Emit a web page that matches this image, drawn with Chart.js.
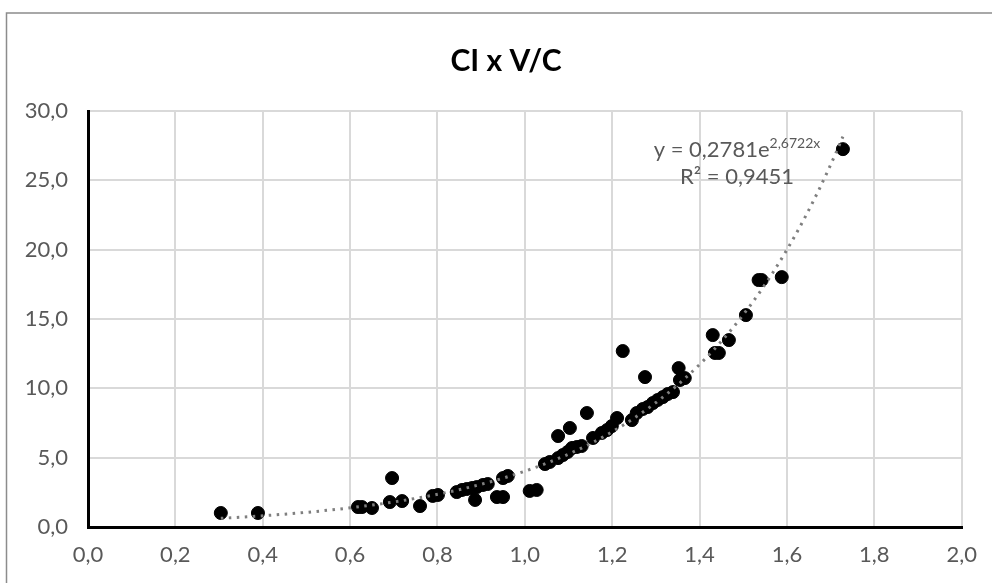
<!DOCTYPE html>
<html>
<head>
<meta charset="utf-8">
<script src="https://cdn.jsdelivr.net/npm/chart.js@4"></script>
<style>
  body { margin: 0; background: #fff; }
  #wrap { width: 992px; height: 583px; }
</style>
</head>
<body>
<div id="wrap"><canvas id="myChart" width="992" height="583"></canvas></div>
<script>
// data
const vc = [0.304, 0.389, 0.618, 0.627, 0.650, 0.696, 0.691, 0.719, 0.760, 0.789,
  0.801, 0.844, 0.856, 0.867, 0.879, 0.890, 0.904, 0.915, 0.886, 0.936,
  0.950, 0.950, 0.961, 1.011, 1.027, 1.046, 1.057, 1.076, 1.076, 1.087,
  1.098, 1.108, 1.103, 1.119, 1.130, 1.142, 1.156, 1.176, 1.188, 1.199,
  1.211, 1.224, 1.245, 1.256, 1.270, 1.275, 1.281, 1.293, 1.304, 1.316,
  1.327, 1.339, 1.352, 1.355, 1.366, 1.430, 1.435, 1.444, 1.467, 1.506,
  1.535, 1.542, 1.588, 1.728];
const ci = [1.01, 1.01, 1.44, 1.44, 1.37, 3.53, 1.80, 1.87, 1.51, 2.24,
  2.31, 2.52, 2.67, 2.74, 2.81, 2.88, 3.03, 3.10, 1.95, 2.16,
  2.16, 3.53, 3.68, 2.60, 2.67, 4.54, 4.69, 6.56, 4.97, 5.19,
  5.41, 5.70, 7.14, 5.77, 5.84, 8.22, 6.42, 6.78, 6.99, 7.28,
  7.86, 12.69, 7.71, 8.22, 8.51, 10.81, 8.65, 8.94, 9.16, 9.37,
  9.59, 9.73, 11.46, 10.60, 10.74, 13.84, 12.55, 12.55, 13.48, 15.28,
  17.81, 17.81, 18.02, 27.25];

// exponential trendline as printed on the chart
const trendA = 0.2781;
const trendB = 2.6722;
const trendR2 = "0,9451";

const points = vc.map((x, i) => ({ x: x, y: ci[i] }));
const trend = [];
const xMin = Math.min(...vc), xMax = Math.max(...vc);
for (let i = 0; i <= 80; i++) {
  const x = xMin + (xMax - xMin) * i / 80;
  trend.push({ x: x, y: trendA * Math.exp(trendB * x) });
}

const fmt = (v) => v.toFixed(1).replace(".", ",");

const excelDecor = {
  id: "excelDecor",
  beforeDraw(chart) {
    const c = chart.ctx;
    c.save();
    c.fillStyle = "#fff";
    c.fillRect(0, 0, chart.width, chart.height);
    c.strokeStyle = "#8c8c8c";
    c.lineWidth = 1.5;
    c.strokeRect(6.5, 13, 1200, 1000);
    c.restore();
  },
  afterDraw(chart) {
    const c = chart.ctx;
    c.save();
    // title
    c.fillStyle = "#000";
    c.font = "bold 30px Lato";
    c.textAlign = "center";
    c.textBaseline = "alphabetic";
    c.fillText("CI x V/C", 506, 71);

    // trendline equation
    c.fillStyle = "#595959";
    c.textAlign = "left";
    const big = "22px Lato", small = "14px Lato";
    const t1 = "y = " + String(trendA).replace(".", ",") + "e";
    const t2 = String(trendB).replace(".", ",") + "x";
    c.font = big;
    const w1 = c.measureText(t1).width;
    c.font = small;
    const w2 = c.measureText(t2).width;
    const cx = 737;
    let x0 = cx - (w1 + w2) / 2;
    c.font = big;
    c.fillText(t1, x0, 157);
    c.font = small;
    c.fillText(t2, x0 + w1, 148);
    c.font = big;
    c.textAlign = "center";
    c.fillText("R\u00B2 = " + trendR2, cx, 184);
    c.restore();
  }
};

const ctx = document.getElementById("myChart").getContext("2d");
const chart = new Chart(ctx, {
  type: "scatter",
  data: {
    datasets: [
      {
        label: "trend",
        data: trend,
        showLine: true,
        pointRadius: 0,
        borderColor: "#7f7f7f",
        borderWidth: 3,
        borderDash: [2.5, 5.5],
        fill: false,
        order: 0,
      },
      {
        label: "CI",
        data: points,
        pointRadius: 6.5,
        pointBackgroundColor: "#000",
        pointBorderColor: "#000",
        pointBorderWidth: 1,
        order: 1,
      },
    ],
  },
  options: {
    responsive: false,
    animation: false,
    layout: { padding: { top: 111, right: 29, left: 0, bottom: 0 } },
    plugins: {
      legend: { display: false },
      tooltip: { enabled: false },
    },
    scales: {
      x: {
        type: "linear",
        min: 0,
        max: 2,
        ticks: {
          stepSize: 0.2,
          padding: 15,
          color: "#595959",
          font: { family: "Lato", size: 22 },
          callback: (v) => fmt(v),
        },
        grid: { color: "#d9d9d9", lineWidth: 2, drawTicks: false },
        border: { display: true, color: "#000", width: 3 },
        afterFit: (s) => { s.height = 56; },
      },
      y: {
        min: 0,
        max: 30,
        ticks: {
          stepSize: 5,
          padding: 20,
          color: "#595959",
          font: { family: "Lato", size: 22 },
          callback: (v) => fmt(v),
        },
        grid: { color: "#d9d9d9", lineWidth: 2, drawTicks: false },
        border: { display: true, color: "#000", width: 3 },
        afterFit: (s) => { s.width = 88; },
      },
    },
  },
  plugins: [excelDecor],
});
</script>
</body>
</html>
